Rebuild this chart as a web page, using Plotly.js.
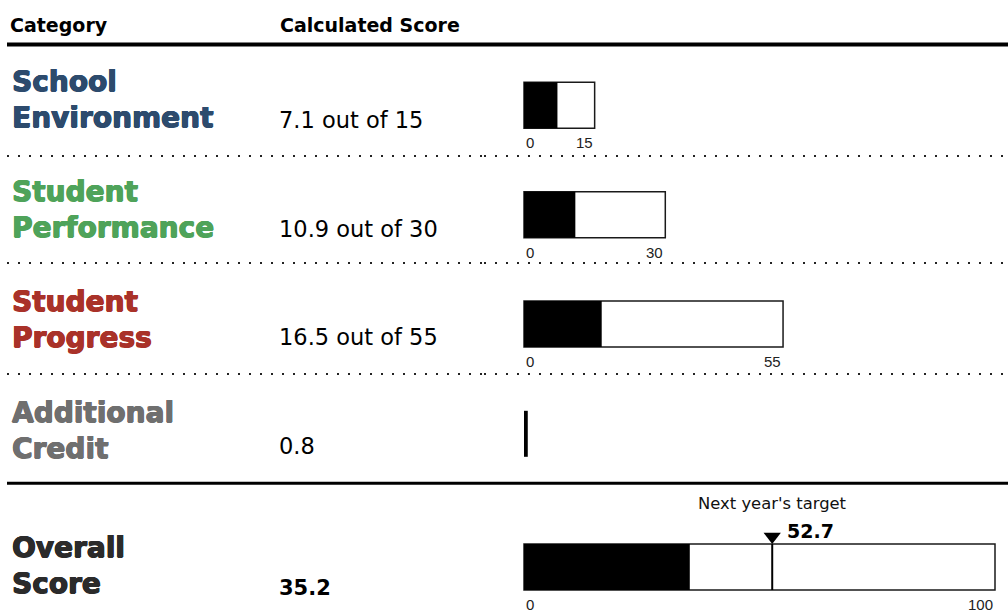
<!DOCTYPE html>
<html><head><meta charset="utf-8">
<script src="https://cdn.plot.ly/plotly-3.0.1.min.js"></script>
<style>html,body{margin:0;padding:0;background:#fff;overflow:hidden}</style>
</head><body><div id="chart" style="width:1008px;height:614px"></div>
<script>
// ---- data ----
const categories = ["School<br>Environment", "Student<br>Performance", "Student<br>Progress", "Additional<br>Credit", "Overall<br>Score"];
const scores = [7.1, 10.9, 16.5, 0.8, 35.2];
const maxScores = [15, 30, 55, null, 100];
const targetScore = 52.7;
const headers = ["Category", "Calculated Score"];
const targetLabel = "Next year's target";

// ---- layout constants ----
const W = 1008, H = 614;
const X0PX = 524, PXU = 4.71;
const rowY = [105.3, 214.7, 324, 433.8, 567];
const barH = 46;
const labelY = [99, 209.5, 319.5, 430, 565];
const scoreY = [120, 229, 337, 446, 588];
const labelColors = ["#2d4b6d", "#4fa35a", "#a93229", "#6f6f6f", "#2b2b2b"];
const FONT = "DejaVu Sans, Verdana, sans-serif";
const TICKFONT = "Liberation Sans, Arial, sans-serif";
const px = v => v / W;
const thick = c => `0.7px 0 0 ${c}, -0.5px 0 0 ${c}, 0 0.5px 0 ${c}, 0 -0.3px 0 ${c}`;

const withMax = maxScores.map((m, i) => i).filter(i => maxScores[i] !== null);

const traces = [
  { type: 'bar', orientation: 'h', x: withMax.map(i => maxScores[i]), y: withMax.map(i => rowY[i]),
    width: withMax.map(() => barH), base: 0,
    marker: { color: '#ffffff', line: { color: '#1a1a1a', width: 1.5 } }, hoverinfo: 'skip' },
  { type: 'bar', orientation: 'h', x: scores, y: rowY, width: scores.map(() => barH), base: 0,
    marker: { color: '#000000', line: { width: 0 } }, hoverinfo: 'skip' },
  { type: 'scatter', mode: 'lines', x: [targetScore, targetScore], y: [rowY[4] - barH / 2, rowY[4] + barH / 2],
    line: { color: '#000', width: 2 }, hoverinfo: 'skip' },
  { type: 'scatter', mode: 'markers', x: [targetScore], y: [rowY[4] - barH / 2 - 7.5],
    marker: { symbol: 'triangle-down', size: 15, color: '#000' }, hoverinfo: 'skip' }
];

const annotations = [];
annotations.push({ xref: 'paper', yref: 'y', x: px(8), y: 25, xanchor: 'left', yanchor: 'middle', showarrow: false,
  text: headers[0], font: { family: FONT, size: 19, color: '#000', weight: 700 } });
annotations.push({ xref: 'paper', yref: 'y', x: px(278), y: 25, xanchor: 'left', yanchor: 'middle', showarrow: false,
  text: headers[1], font: { family: FONT, size: 19, color: '#000', weight: 700 } });

categories.forEach((c, i) => {
  annotations.push({ xref: 'paper', yref: 'y', x: px(10), y: labelY[i], xanchor: 'left', yanchor: 'middle', showarrow: false,
    align: 'left', text: c, font: { family: FONT, size: 28, color: labelColors[i], weight: 700, shadow: thick(labelColors[i]) } });
  const t = maxScores[i] !== null && i < 4 ? `${scores[i]} out of ${maxScores[i]}` : `${scores[i]}`;
  annotations.push({ xref: 'paper', yref: 'y', x: px(277), y: scoreY[i], xanchor: 'left', yanchor: 'middle', showarrow: false,
    text: t, font: { family: FONT, size: i === 4 ? 21 : 22.5, color: '#000', weight: i === 4 ? 700 : 400 } });
});

withMax.forEach(i => {
  const ty = rowY[i] + barH / 2 + 14.5;
  annotations.push({ xref: 'x', yref: 'y', x: 0, y: ty, xanchor: 'left', yanchor: 'middle', showarrow: false,
    text: '0', font: { family: TICKFONT, size: 15, color: '#222' } });
  annotations.push({ xref: 'x', yref: 'y', x: maxScores[i], y: ty, xanchor: 'right', yanchor: 'middle', showarrow: false,
    text: String(maxScores[i]), font: { family: TICKFONT, size: 15, color: '#222' } });
});

annotations.push({ xref: 'x', yref: 'y', x: targetScore, y: 503, xanchor: 'center', yanchor: 'middle', showarrow: false,
  text: targetLabel, font: { family: FONT, size: 16.4, color: '#111' } });
annotations.push({ xref: 'x', yref: 'y', x: targetScore, xshift: 13, y: 531, xanchor: 'left', yanchor: 'middle', showarrow: false,
  text: String(targetScore), font: { family: FONT, size: 19, color: '#000', weight: 700 } });

const shapes = [
  { type: 'line', xref: 'paper', yref: 'y', x0: px(7), x1: 1, y0: 44.5, y1: 44.5, line: { color: '#000', width: 4 } },
  { type: 'line', xref: 'paper', yref: 'y', x0: px(7), x1: 1, y0: 483.3, y1: 483.3, line: { color: '#000', width: 3 } }
];
[156, 263, 374].forEach(y => {
  shapes.push({ type: 'line', xref: 'paper', yref: 'y', x0: px(7), x1: px(486), y0: y, y1: y,
    line: { color: '#222', width: 2, dash: '2px,9px' } });
  shapes.push({ type: 'line', xref: 'paper', yref: 'y', x0: px(484), x1: 1, y0: y, y1: y,
    line: { color: '#222', width: 2, dash: '2px,9px' } });
});

const layout = {
  width: W, height: H, autosize: false,
  margin: { l: 0, r: 0, t: 0, b: 0, pad: 0 },
  paper_bgcolor: '#fff', plot_bgcolor: '#fff',
  showlegend: false, barmode: 'overlay',
  xaxis: { range: [-X0PX / PXU, (W - X0PX) / PXU], visible: false, fixedrange: true },
  yaxis: { range: [H, 0], visible: false, fixedrange: true },
  annotations: annotations, shapes: shapes
};

Plotly.newPlot('chart', traces, layout, { staticPlot: true, displayModeBar: false });
</script>
</body></html>
